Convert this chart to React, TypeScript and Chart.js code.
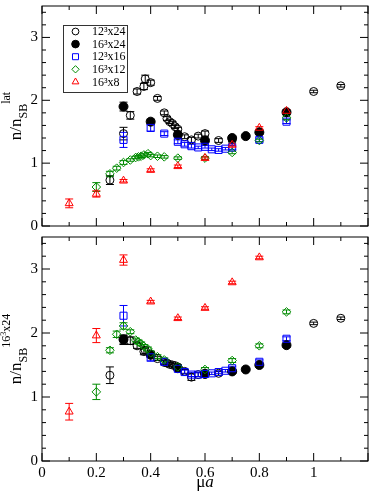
import React, { useEffect, useRef } from 'react';
import { Chart, registerables } from 'chart.js';

Chart.register(...registerables);

const FONT = '"Liberation Serif", "Times New Roman", serif';

// ---------------- data ----------------
const SERIES_LABELS = ['12³x24', '16³x24', '12³x16', '16³x12', '16³x8'];

const X_TICK_VALUES = [0, 0.2, 0.4, 0.6, 0.8, 1];
const X_TICK_LABELS = ['0', '0.2', '0.4', '0.6', '0.8', '1'];
const Y_TICK_VALUES = [0, 1, 2, 3];
const Y_TICK_LABELS = ['0', '1', '2', '3'];

// 12^3x24 (open circles)
const mu_12x24 = [0.25, 0.3, 0.325, 0.35, 0.375, 0.38, 0.4, 0.425, 0.45, 0.46, 0.47, 0.48, 0.49, 0.5, 0.525, 0.55, 0.575, 0.6, 0.65, 0.7, 1.0, 1.1];
const top_12x24 = [0.73, 1.47, 1.76, 2.14, 2.22, 2.34, 2.28, 2.03, 1.80, 1.71, 1.66, 1.63, 1.58, 1.54, 1.42, 1.37, 1.43, 1.47, 1.36, 1.37, 2.14, 2.23];
const topErr_12x24 = [0.07, 0.10, 0.06, 0.04, 0.05, 0.06, 0.04, 0.03, 0.03, 0.03, 0.03, 0.03, 0.03, 0.03, 0.03, 0.04, 0.03, 0.04, 0.03, 0.03, 0.02, 0.02];
const bot_12x24 = [1.34, 1.89, 1.88, 1.80, 1.71, 1.73, 1.67, 1.60, 1.54, 1.53, 1.51, 1.50, 1.49, 1.47, 1.40, 1.31, 1.35, 1.37, 1.37, 1.40, 2.15, 2.23];
const botErr_12x24 = [0.13, 0.07, 0.06, 0.04, 0.05, 0.05, 0.04, 0.03, 0.03, 0.03, 0.03, 0.03, 0.03, 0.03, 0.03, 0.05, 0.03, 0.03, 0.03, 0.03, 0.02, 0.02];

// 16^3x24 (filled circles)
const mu_16x24 = [0.3, 0.4, 0.5, 0.6, 0.7, 0.75, 0.8, 0.9];
const top_16x24 = [1.90, 1.66, 1.45, 1.36, 1.40, 1.43, 1.49, 1.81];
const topErr_16x24 = [0.07, 0.04, 0.03, 0.02, 0.03, 0.02, 0.03, 0.03];
const bot_16x24 = [1.90, 1.66, 1.45, 1.36, 1.40, 1.43, 1.50, 1.81];
const botErr_16x24 = [0.07, 0.04, 0.03, 0.02, 0.03, 0.02, 0.03, 0.03];

// 12^3x16 (blue squares)
const mu_12x16 = [0.3, 0.4, 0.45, 0.5, 0.525, 0.55, 0.575, 0.6, 0.625, 0.65, 0.675, 0.7, 0.8, 0.9];
const top_12x16 = [1.37, 1.56, 1.47, 1.34, 1.30, 1.27, 1.25, 1.26, 1.22, 1.21, 1.23, 1.25, 1.37, 1.66];
const topErr_12x16 = [0.12, 0.05, 0.03, 0.03, 0.03, 0.03, 0.02, 0.02, 0.02, 0.02, 0.02, 0.03, 0.03, 0.03];
const bot_12x16 = [2.27, 1.62, 1.55, 1.44, 1.39, 1.35, 1.35, 1.36, 1.37, 1.39, 1.41, 1.45, 1.55, 1.91];
const botErr_12x16 = [0.16, 0.06, 0.03, 0.03, 0.03, 0.03, 0.03, 0.02, 0.02, 0.02, 0.02, 0.03, 0.03, 0.03];

// 16^3x12 (green diamonds)
const mu_16x12 = [0.2, 0.25, 0.275, 0.3, 0.325, 0.345, 0.355, 0.365, 0.375, 0.39, 0.4, 0.425, 0.45, 0.5, 0.6, 0.7, 0.8, 0.9];
const top_16x12 = [0.62, 0.83, 0.92, 1.01, 1.05, 1.09, 1.10, 1.11, 1.13, 1.15, 1.12, 1.11, 1.10, 1.08, 1.08, 1.17, 1.36, 1.72];
const topErr_16x12 = [0.07, 0.04, 0.03, 0.03, 0.02, 0.02, 0.02, 0.02, 0.02, 0.02, 0.02, 0.02, 0.02, 0.02, 0.02, 0.02, 0.02, 0.03];
const bot_16x12 = [1.08, 1.73, 1.98, 2.11, 2.02, 1.89, 1.86, 1.83, 1.79, 1.75, 1.69, 1.63, 1.58, 1.47, 1.43, 1.57, 1.80, 2.33];
const botErr_16x12 = [0.12, 0.04, 0.05, 0.05, 0.03, 0.03, 0.03, 0.03, 0.03, 0.03, 0.03, 0.03, 0.03, 0.03, 0.03, 0.03, 0.03, 0.03];

// 16^3x8 (red triangles)
const mu_16x8 = [0.1, 0.2, 0.3, 0.4, 0.5, 0.6, 0.7, 0.8, 0.9];
const top_16x8 = [0.36, 0.51, 0.72, 0.89, 0.95, 1.08, 1.29, 1.56, 1.83];
const topErr_16x8 = [0.07, 0.05, 0.02, 0.02, 0.02, 0.02, 0.02, 0.02, 0.02];
const bot_16x8 = [0.77, 1.96, 3.14, 2.49, 2.23, 2.39, 2.79, 3.18, null];
const botErr_16x8 = [0.13, 0.11, 0.08, 0.02, 0.02, 0.02, 0.02, 0.02, null];

// ---------------- styling ----------------
const SERIES = [
  { label: SERIES_LABELS[0], x: mu_12x24, top: top_12x24, topErr: topErr_12x24, bot: bot_12x24, botErr: botErr_12x24 },
  { label: SERIES_LABELS[1], x: mu_16x24, top: top_16x24, topErr: topErr_16x24, bot: bot_16x24, botErr: botErr_16x24 },
  { label: SERIES_LABELS[2], x: mu_12x16, top: top_12x16, topErr: topErr_12x16, bot: bot_12x16, botErr: botErr_12x16 },
  { label: SERIES_LABELS[3], x: mu_16x12, top: top_16x12, topErr: topErr_16x12, bot: bot_16x12, botErr: botErr_16x12 },
  { label: SERIES_LABELS[4], x: mu_16x8, top: top_16x8, topErr: topErr_16x8, bot: bot_16x8, botErr: botErr_16x8 },
];

const STYLES = [
  { color: '#000000', pointStyle: 'circle', radius: 4, fill: false },
  { color: '#000000', pointStyle: 'circle', radius: 4.5, fill: true },
  { color: '#0000ff', pointStyle: 'rect', radius: 5, fill: false },
  { color: '#008b00', pointStyle: 'rectRot', radius: 4.3, fill: false },
  { color: '#ff0000', pointStyle: 'triangle', radius: 4.6, fill: false },
];

function buildDatasets(panel: 'top' | 'bot') {
  return SERIES.map((s, i) => {
    const vals = panel === 'top' ? s.top : s.bot;
    const errs = panel === 'top' ? s.topErr : s.botErr;
    const data: any[] = [];
    s.x.forEach((x, j) => {
      if (vals[j] != null) data.push({ x, y: vals[j], e: errs[j] ?? 0 });
    });
    const st = STYLES[i];
    return {
      label: s.label,
      data,
      pointStyle: st.pointStyle,
      pointRadius: st.radius,
      pointHoverRadius: st.radius,
      pointBorderWidth: 1,
      pointBorderColor: st.color,
      pointBackgroundColor: st.fill ? st.color : 'rgba(0,0,0,0)',
      borderColor: st.color,
      backgroundColor: st.fill ? st.color : 'rgba(0,0,0,0)',
      showLine: false,
      order: SERIES.length - i,
    };
  });
}

// ---------------- plugins ----------------
const errorBarPlugin = {
  id: 'errorBars',
  beforeDatasetsDraw(chart: any) {
    const { ctx } = chart;
    const xs = chart.scales.x;
    const ys = chart.scales.y;
    ctx.save();
    ctx.lineWidth = 1;
    chart.data.datasets.forEach((ds: any) => {
      ctx.strokeStyle = ds.pointBorderColor;
      ds.data.forEach((p: any) => {
        if (!p.e) return;
        const px = xs.getPixelForValue(p.x);
        const y1 = ys.getPixelForValue(p.y - p.e);
        const y2 = ys.getPixelForValue(p.y + p.e);
        ctx.beginPath();
        ctx.moveTo(px, y1);
        ctx.lineTo(px, y2);
        ctx.moveTo(px - 4, y1);
        ctx.lineTo(px + 4, y1);
        ctx.moveTo(px - 4, y2);
        ctx.lineTo(px + 4, y2);
        ctx.stroke();
      });
    });
    ctx.restore();
  },
};

const frameTicksPlugin = {
  id: 'frameTicks',
  afterDraw(chart: any) {
    const { ctx } = chart;
    const { left, right, top, bottom } = chart.chartArea;
    const xs = chart.scales.x;
    const ys = chart.scales.y;
    ctx.save();
    ctx.strokeStyle = '#000';
    ctx.lineWidth = 1;
    ctx.strokeRect(left, top, right - left, bottom - top);
    ctx.beginPath();
    for (let i = 0; i <= 12; i++) {
      const v = i / 10;
      const px = xs.getPixelForValue(v);
      const len = i % 2 === 0 ? 8 : 4;
      ctx.moveTo(px, bottom);
      ctx.lineTo(px, bottom - len);
      ctx.moveTo(px, top);
      ctx.lineTo(px, top + len);
    }
    for (let i = 0; i <= 17; i++) {
      const v = i * 0.2;
      const py = ys.getPixelForValue(v);
      const len = i % 5 === 0 ? 8 : 4;
      ctx.moveTo(left, py);
      ctx.lineTo(left + len, py);
      ctx.moveTo(right, py);
      ctx.lineTo(right - len, py);
    }
    ctx.stroke();
    ctx.restore();
  },
};

type Part = { t: string; s: number; d: number; it?: boolean };

function makeYTitlePlugin(parts: Part[]) {
  return {
    id: 'yTitle',
    afterDraw(chart: any) {
      const { ctx } = chart;
      const { top, bottom } = chart.chartArea;
      const cy = (top + bottom) / 2;
      const baseX = 20.7;
      ctx.save();
      ctx.fillStyle = '#000';
      ctx.textBaseline = 'alphabetic';
      ctx.textAlign = 'left';
      let total = 0;
      const widths = parts.map((p) => {
        ctx.font = `${p.it ? 'italic ' : ''}${p.s}px ${FONT}`;
        const w = ctx.measureText(p.t).width;
        total += w;
        return w;
      });
      ctx.translate(baseX, cy);
      ctx.rotate(-Math.PI / 2);
      let x = -total / 2;
      parts.forEach((p, i) => {
        ctx.font = `${p.it ? 'italic ' : ''}${p.s}px ${FONT}`;
        ctx.fillText(p.t, x, p.d);
        x += widths[i];
      });
      ctx.restore();
    },
  };
}

const xTitlePlugin = {
  id: 'xTitle',
  afterDraw(chart: any) {
    const { ctx } = chart;
    const { left, right } = chart.chartArea;
    const cx = (left + right) / 2;
    const baseY = chart.height - 6;
    ctx.save();
    ctx.fillStyle = '#000';
    ctx.textBaseline = 'alphabetic';
    ctx.textAlign = 'left';
    ctx.font = `17px ${FONT}`;
    const w1 = ctx.measureText('μ').width;
    ctx.font = `italic 17px ${FONT}`;
    const w2 = ctx.measureText('a').width;
    const x0 = cx - (w1 + w2) / 2;
    ctx.font = `17px ${FONT}`;
    ctx.fillText('μ', x0, baseY);
    ctx.font = `italic 17px ${FONT}`;
    ctx.fillText('a', x0 + w1, baseY);
    ctx.restore();
  },
};

function drawSymbol(ctx: CanvasRenderingContext2D, style: string, x: number, y: number, r: number, color: string, fill: boolean) {
  ctx.beginPath();
  if (style === 'circle') {
    ctx.arc(x, y, r, 0, Math.PI * 2);
  } else if (style === 'rect') {
    const s = Math.SQRT1_2 * r;
    ctx.rect(x - s, y - s, 2 * s, 2 * s);
  } else if (style === 'rectRot') {
    ctx.moveTo(x - r, y);
    ctx.lineTo(x, y - r);
    ctx.lineTo(x + r, y);
    ctx.lineTo(x, y + r);
    ctx.closePath();
  } else if (style === 'triangle') {
    let a = 0;
    ctx.moveTo(x + Math.sin(a) * r, y - Math.cos(a) * r);
    a += (2 * Math.PI) / 3;
    ctx.lineTo(x + Math.sin(a) * r, y - Math.cos(a) * r);
    a += (2 * Math.PI) / 3;
    ctx.lineTo(x + Math.sin(a) * r, y - Math.cos(a) * r);
    ctx.closePath();
  }
  if (fill) {
    ctx.fillStyle = color;
    ctx.fill();
  }
  ctx.strokeStyle = color;
  ctx.lineWidth = 1;
  ctx.stroke();
}

const legendPlugin = {
  id: 'boxLegend',
  afterDraw(chart: any) {
    const { ctx } = chart;
    const { left, top } = chart.chartArea;
    const bx = left + 21;
    const by = top + 18.5;
    const bw = 64;
    const bh = 67;
    ctx.save();
    ctx.fillStyle = '#fff';
    ctx.fillRect(bx, by, bw, bh);
    ctx.strokeStyle = '#333';
    ctx.lineWidth = 1;
    ctx.strokeRect(Math.round(bx) + 0.5, Math.round(by) + 0.5, bw, bh);
    chart.data.datasets.forEach((ds: any, i: number) => {
      const st = STYLES[i];
      const ry = by + 7 + i * 12.6;
      drawSymbol(ctx, st.pointStyle, bx + 12.5, ry, st.radius * 0.85, st.color, st.fill);
      ctx.fillStyle = '#000';
      ctx.font = `12px ${FONT}`;
      ctx.textBaseline = 'middle';
      ctx.textAlign = 'left';
      ctx.fillText(ds.label, bx + 29, ry + 0.5);
    });
    ctx.restore();
  },
};

// ---------------- config ----------------
function tickLabel(values: number[], labels: string[]) {
  return (v: any) => {
    const k = values.findIndex((t) => Math.abs(t - Number(v)) < 1e-6);
    return k >= 0 ? labels[k] : '';
  };
}

function makeConfig(panel: 'top' | 'bot'): any {
  const isTop = panel === 'top';
  const yParts: Part[] = isTop
    ? [
        { t: 'n/n', s: 17, d: 0 },
        { t: 'SB', s: 12, d: 6 },
        { t: 'lat', s: 12, d: -10.5 },
      ]
    : [
        { t: 'n/n', s: 17, d: 0 },
        { t: 'SB', s: 12, d: 6 },
        { t: '16', s: 12, d: -10.5 },
        { t: '3', s: 8, d: -14.5 },
        { t: 'x24', s: 12, d: -10.5 },
      ];
  const plugins: any[] = [errorBarPlugin, frameTicksPlugin, makeYTitlePlugin(yParts)];
  if (isTop) plugins.push(legendPlugin);
  else plugins.push(xTitlePlugin);
  return {
    type: 'scatter',
    data: { datasets: buildDatasets(panel) },
    plugins,
    options: {
      animation: false,
      responsive: false,
      maintainAspectRatio: false,
      events: [],
      layout: { padding: { left: 0, right: 1, top: isTop ? 1 : 0, bottom: isTop ? 1 : 0 } },
      plugins: { legend: { display: false }, tooltip: { enabled: false } },
      scales: {
        x: {
          type: 'linear',
          min: 0,
          max: 1.2,
          display: !isTop,
          position: 'bottom',
          afterFit: (s: any) => {
            s.height = isTop ? 0 : 32;
            s.paddingLeft = 0;
            s.paddingRight = 0;
            s.paddingTop = 0;
            s.paddingBottom = 0;
          },
          grid: { display: false, drawTicks: false, tickLength: 0 },
          border: { display: false },
          ticks: {
            stepSize: 0.2,
            includeBounds: false,
            autoSkip: false,
            maxRotation: 0,
            padding: 3,
            color: '#000',
            font: { family: FONT, size: 15 },
            callback: tickLabel(X_TICK_VALUES, X_TICK_LABELS),
          },
        },
        y: {
          type: 'linear',
          min: 0,
          max: 3.5,
          position: 'left',
          afterFit: (s: any) => {
            s.width = 42;
            s.paddingTop = 0;
            s.paddingBottom = 0;
            s.paddingLeft = 0;
            s.paddingRight = 0;
          },
          grid: { display: false, drawTicks: false, tickLength: 0 },
          border: { display: false },
          ticks: {
            stepSize: 1,
            includeBounds: false,
            autoSkip: false,
            padding: 4,
            color: '#000',
            font: { family: FONT, size: 15 },
            callback: tickLabel(Y_TICK_VALUES, Y_TICK_LABELS),
          },
        },
      },
    },
  };
}

export default function App() {
  const topRef = useRef<HTMLCanvasElement>(null);
  const botRef = useRef<HTMLCanvasElement>(null);

  useEffect(() => {
    const c1 = new Chart(topRef.current as HTMLCanvasElement, makeConfig('top'));
    const c2 = new Chart(botRef.current as HTMLCanvasElement, makeConfig('bot'));
    return () => {
      c1.destroy();
      c2.destroy();
    };
  }, []);

  return (
    <div style={{ position: 'fixed', left: 0, top: 0, width: 374, height: 493, background: '#fff' }}>
      <canvas ref={topRef} width={374} height={232} style={{ position: 'absolute', left: 0, top: 0 }} />
      <canvas ref={botRef} width={374} height={262} style={{ position: 'absolute', left: 0, top: 231 }} />
    </div>
  );
}
